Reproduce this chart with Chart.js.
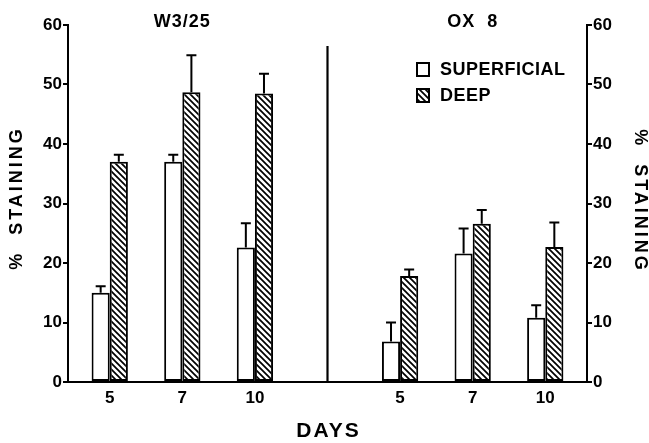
<!DOCTYPE html>
<html>
<head>
<meta charset="utf-8">
<style>
  html, body { margin: 0; padding: 0; background: #fff; }
</style>
<script src="https://cdn.jsdelivr.net/npm/chart.js@4.4.0/dist/chart.umd.min.js"></script>
</head>
<body>
<canvas id="chart" width="649" height="443"></canvas>
<script>
// values
const days = ['5', '7', '10'];
const groups = ['W3/25', 'OX  8'];
const superficial = [15, 37, 22.6, 6.8, 21.6, 10.8];
const superficialErr = [1.1, 1.2, 4.1, 3.2, 4.2, 2.1];
const deep = [37, 48.7, 48.5, 17.8, 26.6, 22.7];
const deepErr = [1.2, 6.2, 3.3, 1.1, 2.3, 4.1];
const yTicks = [0, 10, 20, 30, 40, 50, 60];

// x slot of each bar pair - slot 3 is the empty gap where the divider sits
const slots = [0, 1, 2, 4, 5, 6];
const groupCenters = [1, 5];
const dividerSlot = 3;

const FONT = '"Liberation Sans", Arial, Helvetica, sans-serif';

// diagonal hatch for the DEEP bars
function hatch() {
  const c = document.createElement('canvas');
  c.width = 6; c.height = 6;
  const g = c.getContext('2d');
  g.fillStyle = '#fff';
  g.fillRect(0, 0, 6, 6);
  g.strokeStyle = '#000';
  g.lineWidth = 1.7;
  g.beginPath();
  g.moveTo(-1, -1); g.lineTo(7, 7);
  g.moveTo(-4, 2); g.lineTo(4, 10);
  g.moveTo(2, -4); g.lineTo(10, 4);
  g.stroke();
  return g.createPattern(c, 'repeat');
}
const deepFill = hatch();

// upward error bars with a cap
const errorBars = {
  id: 'errorBars',
  afterDatasetsDraw(chart) {
    const ctx = chart.ctx;
    const y = chart.scales.y;
    ctx.save();
    ctx.strokeStyle = '#000';
    ctx.lineWidth = 2;
    chart.data.datasets.forEach((ds, di) => {
      chart.getDatasetMeta(di).data.forEach((bar, i) => {
        const top = y.getPixelForValue(ds.data[i].y + ds.err[i]);
        ctx.beginPath();
        ctx.moveTo(bar.x, bar.y);
        ctx.lineTo(bar.x, top);
        ctx.moveTo(bar.x - 5, top);
        ctx.lineTo(bar.x + 5, top);
        ctx.stroke();
      });
    });
    ctx.restore();
  }
};

// divider, group titles, legend and axis titles
const decorations = {
  id: 'decorations',
  afterDraw(chart) {
    const ctx = chart.ctx;
    const x = chart.scales.x;
    const area = chart.chartArea;
    ctx.save();
    ctx.fillStyle = '#000';
    ctx.strokeStyle = '#000';

    // vertical divider between the two groups
    const dx = x.getPixelForValue(dividerSlot);
    ctx.lineWidth = 2.2;
    ctx.beginPath();
    ctx.moveTo(dx, area.top + 21);
    ctx.lineTo(dx, area.bottom);
    ctx.stroke();

    // group titles
    ctx.font = 'bold 18px ' + FONT;
    ctx.textAlign = 'center';
    ctx.textBaseline = 'middle';
    ctx.letterSpacing = '1px';
    groups.forEach((g, i) => {
      ctx.fillText(g, x.getPixelForValue(groupCenters[i]), area.top - 3);
    });

    // legend
    ctx.textAlign = 'left';
    ctx.font = 'bold 18px ' + FONT;
    ctx.letterSpacing = '0.5px';
    chart.data.datasets.forEach((ds, i) => {
      const by = 63 + i * 26;
      ctx.fillStyle = ds.backgroundColor;
      ctx.fillRect(417, by, 12, 13);
      ctx.lineWidth = 2;
      ctx.strokeRect(417, by, 12, 13);
      ctx.fillStyle = '#000';
      ctx.fillText(ds.label, 440, by + 7.5);
    });

    // axis titles
    ctx.textAlign = 'center';
    ctx.letterSpacing = '3px';
    ctx.font = 'bold 18px ' + FONT;
    ctx.save();
    ctx.translate(17, 198);
    ctx.rotate(-Math.PI / 2);
    ctx.fillText('%  STAINING', 0, 0);
    ctx.restore();
    ctx.save();
    ctx.translate(640, 201);
    ctx.rotate(Math.PI / 2);
    ctx.fillText('%  STAINING', 0, 0);
    ctx.restore();

    ctx.letterSpacing = '2px';
    ctx.font = 'bold 21px ' + FONT;
    ctx.fillText('DAYS', (area.left + area.right) / 2 + 1, 431);
    ctx.restore();
  }
};

const tickFont = { family: FONT, size: 17, weight: 'bold' };

function yAxis(position, width) {
  return {
    type: 'linear',
    position: position,
    min: 0,
    max: 60,
    afterBuildTicks: s => { s.ticks = yTicks.map(v => ({ value: v })); },
    afterFit: s => { s.width = width; },
    border: { display: true, color: '#000', width: 2 },
    grid: { drawOnChartArea: false, drawTicks: true, tickLength: 5, color: '#000', lineWidth: 2 },
    ticks: { color: '#000', font: tickFont, padding: 1 }
  };
}

new Chart(document.getElementById('chart'), {
  type: 'bar',
  data: {
    datasets: [
      {
        label: 'SUPERFICIAL',
        data: slots.map((s, i) => ({ x: s, y: superficial[i] })),
        err: superficialErr,
        backgroundColor: '#fff',
        borderColor: '#000',
        borderWidth: 2,
        borderSkipped: false
      },
      {
        label: 'DEEP',
        data: slots.map((s, i) => ({ x: s, y: deep[i] })),
        err: deepErr,
        backgroundColor: deepFill,
        borderColor: '#000',
        borderWidth: 2,
        borderSkipped: false
      }
    ]
  },
  options: {
    responsive: false,
    animation: false,
    events: [],
    categoryPercentage: 0.5,
    barPercentage: 1,
    layout: { padding: { top: 25, left: 0, right: 0, bottom: 0 } },
    plugins: { legend: { display: false }, tooltip: { enabled: false } },
    scales: {
      x: {
        type: 'linear',
        offset: false,
        min: -0.575,
        max: 6.575,
        afterBuildTicks: s => { s.ticks = slots.map(v => ({ value: v })); },
        afterFit: s => { s.height = 61; },
        border: { display: true, color: '#000', width: 2 },
        grid: { display: false, drawTicks: false, offset: false },
        ticks: {
          autoSkip: false,
          maxRotation: 0,
          color: '#000',
          font: tickFont,
          padding: 6,
          callback: v => days[slots.indexOf(v) % days.length]
        }
      },
      y: yAxis('left', 68),
      y2: yAxis('right', 62)
    }
  },
  plugins: [errorBars, decorations]
});
</script>
</body>
</html>
